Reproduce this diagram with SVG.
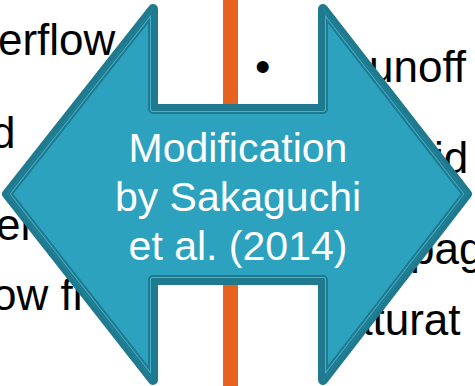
<svg xmlns="http://www.w3.org/2000/svg" width="475" height="386" viewBox="0 0 475 386">
<style>
.bg{font-family:"Liberation Sans",Arial,sans-serif;font-size:44px;fill:#000}
.lbl{font-family:"Liberation Sans",Arial,sans-serif;font-size:41px;fill:#fff;text-anchor:middle}
</style>
<defs>
<path id="arrowShape" d="M7,194 L153,9 L153,109 L323,109 L323,9 L467,194 L323,380 L323,280 L153,280 L153,380 Z"/>
<clipPath id="inside"><use href="#arrowShape"/></clipPath>
</defs>
<rect width="475" height="386" fill="#fff"/>
<g id="background-text">
<text class="bg" x="-2" y="55">erflow</text>
<text class="bg" x="-9" y="148">d</text>
<text class="bg" x="-4" y="240">er</text>
<text class="bg" x="-8" y="310">ow fl</text>
<text class="bg" x="255" y="82">•</text>
<text class="bg" x="369" y="82">unoff</text>
<text class="bg" x="434" y="173">id</text>
<text class="bg" x="410" y="264">pag</text>
<text class="bg" x="348" y="335">aturat</text>
</g>
<rect id="divider" x="223" y="0" width="15" height="386" fill="#E8621F"/>
<g id="connectors"></g>
<g id="modification-arrow">
<use href="#arrowShape" fill="#2CA2BF" stroke="#1F7A8F" stroke-width="10" stroke-linejoin="round"/>
<use href="#arrowShape" fill="none" stroke="#45B0CA" stroke-width="6" stroke-linejoin="round" clip-path="url(#inside)"/>
<use href="#arrowShape" fill="none" stroke="#1F7A8F" stroke-width="4" stroke-linejoin="round" clip-path="url(#inside)"/>
<text class="lbl" x="238" y="162">Modification</text>
<text class="lbl" x="238" y="211">by Sakaguchi</text>
<text class="lbl" x="238" y="260">et al. (2014)</text>
</g>
</svg>
